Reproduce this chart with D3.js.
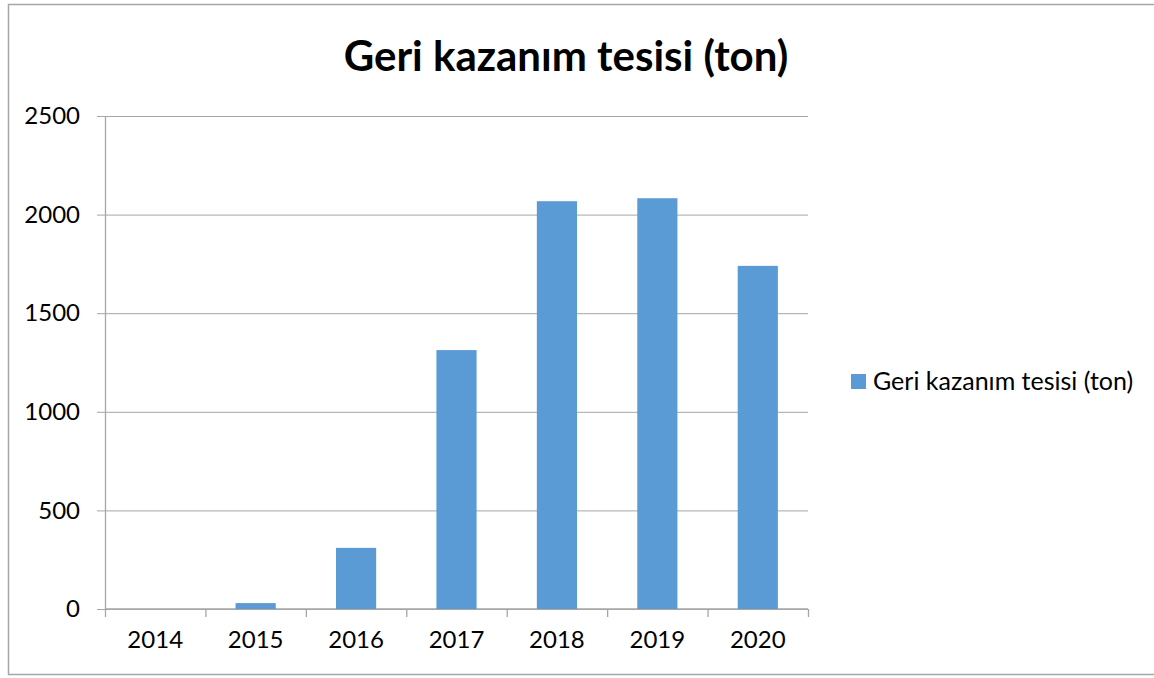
<!DOCTYPE html>
<html>
<head>
<meta charset="utf-8">
<script src="https://cdn.jsdelivr.net/npm/d3@7"></script>
<style>
  body { margin: 0; background: #fff; }
  svg { display: block; font-family: Lato, "Noto Sans", sans-serif; }
</style>
</head>
<body>
<div id="chart"></div>
<script>
// Bar chart - "Geri kazanım tesisi (ton)"
const years = ['2014', '2015', '2016', '2017', '2018', '2019', '2020'];
const tons = [0, 30, 310, 1313, 2068, 2083, 1740];
const yTicks = [0, 500, 1000, 1500, 2000, 2500];
const seriesName = 'Geri kazanım tesisi (ton)';
const title = 'Geri kazanım tesisi (ton)';

const W = 1154, H = 678;
const plot = { left: 105, right: 808, top: 116, bottom: 609 };
const barColor = '#5b9bd5';
const lineColor = '#a6a6a6';

const svg = d3.select('#chart').append('svg')
  .attr('width', W).attr('height', H);

// outer chart border
svg.append('rect')
  .attr('x', 8.5).attr('y', 4.5)
  .attr('width', W + 10).attr('height', 670)
  .attr('fill', 'none').attr('stroke', lineColor).attr('stroke-width', 1.5);

const x = d3.scaleBand().domain(years).range([plot.left, plot.right]).paddingInner(0.6).paddingOuter(0.3);
const y = d3.scaleLinear().domain([0, 2500]).range([plot.bottom, plot.top]);

// gridlines + y ticks
const yAxis = d3.axisLeft(y).tickValues(yTicks).tickFormat(d3.format('d')).tickSize(8).tickPadding(17);
const yG = svg.append('g').attr('transform', `translate(${plot.left},0)`).call(yAxis);
yG.select('.domain').remove();
yG.selectAll('.tick line').attr('stroke', lineColor).attr('x2', plot.right - plot.left).attr('x1', -8);
yG.selectAll('.tick text').attr('font-size', 24).attr('fill', '#000').attr('font-family', 'Lato, sans-serif');

// y axis line
svg.append('line')
  .attr('x1', plot.left + 0.5).attr('x2', plot.left + 0.5)
  .attr('y1', plot.top).attr('y2', plot.bottom)
  .attr('stroke', lineColor).attr('stroke-width', 1.3);

// x axis with ticks at category boundaries
const xG = svg.append('g').attr('transform', `translate(0,${plot.bottom})`)
  .call(d3.axisBottom(x).tickSize(0).tickPadding(22));
xG.select('.domain').attr('stroke', lineColor).attr('stroke-width', 1.3)
  .attr('d', `M${plot.left},0H${plot.right}`);
xG.selectAll('.tick text').attr('font-size', 24).attr('fill', '#000').attr('font-family', 'Lato, sans-serif');

const bounds = d3.range(years.length + 1).map(i => plot.left + i * (plot.right - plot.left) / years.length);
xG.selectAll('line.bound').data(bounds).enter().append('line')
  .attr('class', 'bound')
  .attr('x1', d => d + 0.5).attr('x2', d => d + 0.5)
  .attr('y1', 0).attr('y2', 8)
  .attr('stroke', lineColor).attr('stroke-width', 1.3);

// bars
svg.selectAll('rect.bar').data(tons).enter().append('rect')
  .attr('class', 'bar')
  .attr('x', (d, i) => x(years[i]))
  .attr('width', x.bandwidth())
  .attr('y', d => y(d))
  .attr('height', d => y(0) - y(d))
  .attr('fill', barColor);

// title
svg.append('text')
  .attr('x', 566).attr('y', 71)
  .attr('text-anchor', 'middle')
  .attr('font-size', 42).attr('font-weight', 'bold')
  .text(title);

// legend
const lg = svg.append('g').attr('transform', 'translate(851,374)');
lg.append('rect').attr('width', 15).attr('height', 15).attr('fill', barColor);
lg.append('text').attr('x', 22).attr('y', 7.5).attr('dy', '0.35em')
  .attr('font-size', 25).attr('fill', '#000')
  .text(seriesName);
</script>
</body>
</html>
